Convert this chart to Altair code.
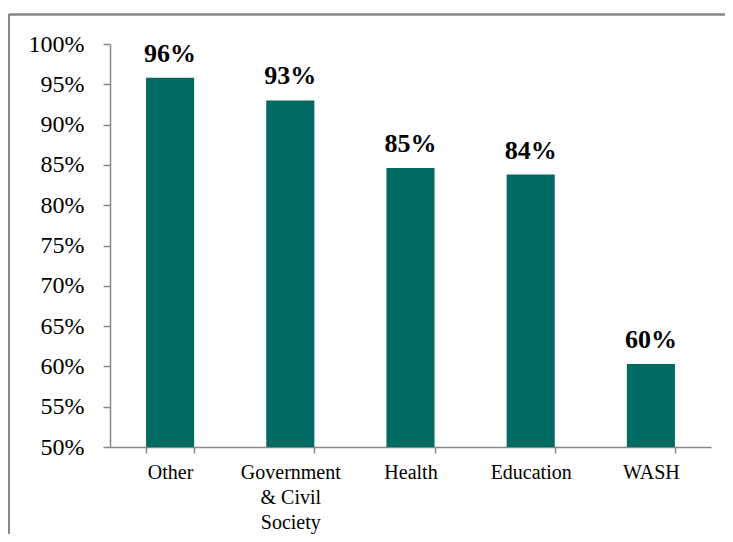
import altair as alt
import pandas as pd

categories = ["Other", "Government & Civil Society", "Health", "Education", "WASH"]
values = [0.958, 0.930, 0.846, 0.838, 0.603]
labels = ["96%", "93%", "85%", "84%", "60%"]

df = pd.DataFrame({"category": categories, "value": values, "label": labels})

BAR = "#006B63"
GRAY = "#878787"
FONT = "Liberation Serif"

x_enc = alt.X(
    "category:N",
    sort=categories,
    scale=alt.Scale(paddingInner=0.6, paddingOuter=0.3),
    axis=alt.Axis(
        title=None,
        labelAngle=0,
        labelFont=FONT,
        labelFontSize=20,
        labelColor="black",
        labelPadding=9,
        labelLineHeight=25,
        labelExpr="datum.label == 'Government & Civil Society' ? ['Government', '& Civil', 'Society'] : datum.label",
        tickBand="extent",
        tickSize=6,
        tickColor=GRAY,
        domainColor=GRAY,
        domainWidth=1.5,
        tickWidth=1.5,
    ),
)

y_scale = alt.Scale(domain=[0.5, 1.0], nice=False, zero=False)

bars = alt.Chart(df).mark_bar(color=BAR, clip=True).encode(
    x=x_enc,
    y=alt.Y(
        "value:Q",
        scale=y_scale,
        axis=alt.Axis(
            title=None,
            format=".0%",
            values=[0.5, 0.55, 0.6, 0.65, 0.7, 0.75, 0.8, 0.85, 0.9, 0.95, 1.0],
            labelFont=FONT,
            labelFontSize=24,
            labelColor="black",
            labelPadding=19,
            tickSize=7,
            tickColor=GRAY,
            domainColor=GRAY,
            domainWidth=1.5,
            tickWidth=1.5,
            grid=False,
        ),
    ),
    y2=alt.datum(0.5),
)

text = alt.Chart(df).mark_text(
    font=FONT, fontSize=26, fontWeight="bold", color="black",
    baseline="alphabetic", dy=-16,
).encode(
    x=alt.X("category:N", sort=categories),
    y=alt.Y("value:Q", scale=y_scale),
    text="label:N",
)

frame_top = alt.Chart(df).mark_rule(color=GRAY, strokeWidth=1.5).encode(
    x=alt.value(-101), x2=alt.value(640), y=alt.value(-29.5)
)
frame_left = alt.Chart(df).mark_rule(color=GRAY, strokeWidth=1.5).encode(
    x=alt.value(-101), y=alt.value(-29.5), y2=alt.value(520)
)

chart = alt.layer(frame_top, frame_left, bars, text).properties(
    width=601,
    height=403,
    padding={"left": 102, "top": 36, "right": 14, "bottom": 87},
    autosize=alt.AutoSizeParams(type="none"),
).configure_view(stroke=None)

chart.save("out.html", embed_options={"renderer": "svg", "actions": False})
